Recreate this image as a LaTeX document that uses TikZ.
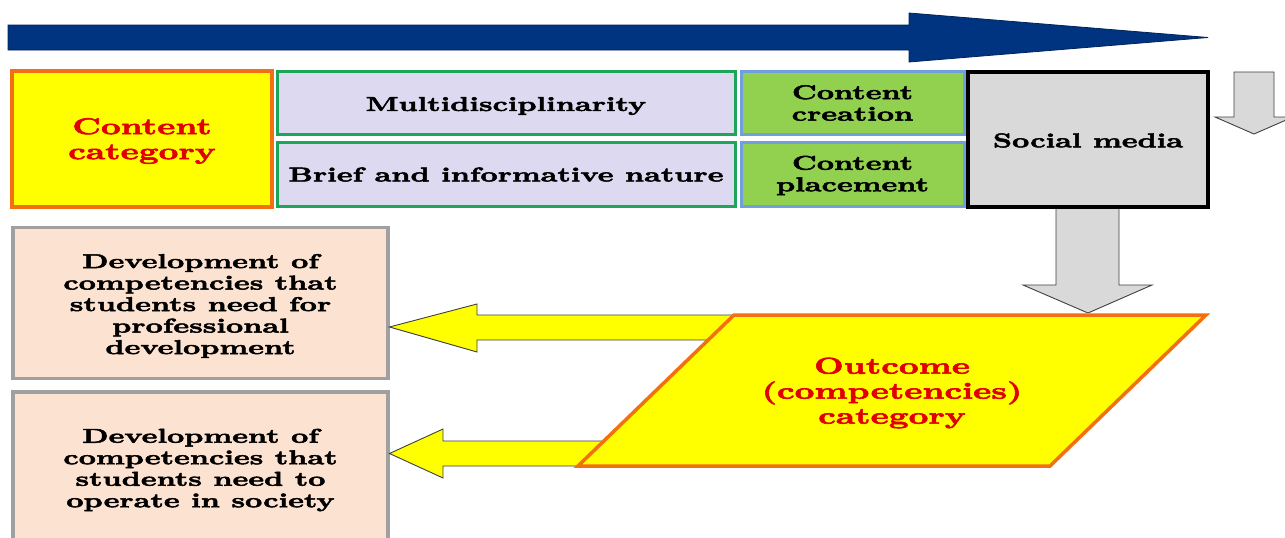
\documentclass[tikz,border=0pt]{standalone}
\usepackage{fontspec}
\setmainfont{lmroman10}[Extension=.otf, UprightFont=*-regular, BoldFont=*-bold,
  ItalicFont=*-italic, BoldItalicFont=*-bolditalic, FakeStretch=1.5,
  FakeBold=2.5]
\usetikzlibrary{calc}

\definecolor{navy}{HTML}{003380}
\definecolor{orng}{HTML}{F2700F}
\definecolor{lav}{HTML}{DDD9F1}
\definecolor{grn}{HTML}{1DA65A}
\definecolor{leaf}{HTML}{92D050}
\definecolor{skyb}{HTML}{6FA0DC}
\definecolor{lgray}{HTML}{D9D9D9}
\definecolor{peach}{HTML}{FCE2D0}
\definecolor{bgray}{HTML}{A0A0A0}
\definecolor{tred}{HTML}{E00000}
\definecolor{yel}{HTML}{FFFF00}
\definecolor{dline}{HTML}{404040}

\begin{document}
\begin{tikzpicture}[x=1pt, y=-1pt,
  every node/.style={inner sep=0pt, outer sep=0pt},
  txt/.style={font=\bfseries\fontsize{20}{21.5}\selectfont, align=center, text=black},
  ttl/.style={font=\bfseries\fontsize{23}{25}\selectfont, align=center, text=tred},
  % box text, lowered by the given amount from the box centre
  body/.style 2 args={label={[txt, yshift=-#1 pt]center:{#2}}},
  title/.style={label={[ttl, yshift=-2pt]center:{#1}}},
  catbox/.style={rectangle, draw=orng, line width=3.5pt, fill=yel},
  lavbox/.style={rectangle, draw=grn, line width=3pt, fill=lav},
  leafbox/.style={rectangle, draw=skyb, line width=3pt, fill=leaf},
  smbox/.style={rectangle, draw=black, line width=4pt, fill=lgray},
  devbox/.style={rectangle, draw=bgray, line width=3.5pt, fill=peach},
  timeline/.style={fill=navy, draw=navy!70!black, line width=0.8pt, line join=miter},
  garrow/.style={fill=lgray, draw=dline, line width=0.9pt, line join=miter},
  yarrow/.style={fill=yel, draw=dline, line width=0.9pt, line join=miter},
  outbox/.style={fill=yel, draw=orng, line width=3.5pt, line join=miter}]

\useasboundingbox (0,0) rectangle (1285,538);
\clip (0,0) rectangle (1285,538);
\fill[white] (0,0) rectangle (1285,538);

% timeline arrow along the top
\coordinate (tl0) at (8,37.5);
\coordinate (tl1) at (1208,37.5);
\draw[timeline] ($(tl0)+(0,-12.5)$) -- (909,25) -- (909,13) -- (tl1)
  -- (909,62) -- (909,50) -- ($(tl0)+(0,12.5)$) -- cycle;

% content row
\node[catbox, minimum width=260, minimum height=136,
  title={Content\\category}] (cat) at (142,139) {};
\node[lavbox, minimum width=458, minimum height=63,
  body={3}{Multidisciplinarity}] (multi) at (506,103) {};
\node[lavbox, minimum width=458, minimum height=64,
  body={0}{Brief and informative nature}] (brief) at (506,174.5) {};
\node[leafbox, minimum width=223, minimum height=63,
  body={0}{Content\\creation}] (create) at (852.5,103) {};
\node[leafbox, minimum width=223, minimum height=64,
  body={1}{Content\\placement}] (place) at (852.5,174.5) {};
\node[smbox, minimum width=240, minimum height=135,
  body={1}{Social media}] (social) at (1088,139.5) {};

% small arrow at the right edge
\coordinate (sa) at (1254,72);
\draw[garrow] ($(sa)+(-20,0)$) -- ++(0,45) -- (1215,117) -- (1254,134)
  -- (1293,117) -- (1274,117) -- (1274,72) -- cycle;

% outcome boxes
\node[devbox, minimum width=375, minimum height=151,
  body={3}{Development of\\competencies that\\students need for\\professional\\development}]
  (dev1) at (200.5,303) {};
\node[devbox, minimum width=375, minimum height=156,
  body={0}{Development of\\competencies that\\students need to\\operate in society}]
  (dev2) at (200.5,470) {};

% arrow from social media down to the outcome category
\coordinate (gtip) at (1088,313);
\filldraw[garrow] ($(social.south)+(-32,2)$) -- ++(0,76) -- ++(-33,0) -- (gtip)
  -- ++(64,-28) -- ++(-33,0) -- ($(social.south)+(31,2)$);

% arrows from the outcome category to the two competency boxes
\coordinate (y1) at (dev1.east |- 0,327);
\draw[yarrow] ($(y1)+(1.5,0)$) -- (477,304) -- (477,315) -- (750,315)
  -- (750,340) -- (477,340) -- (477,352) -- cycle;
\coordinate (y2) at (dev2.east |- 0,453.5);
\draw[yarrow] ($(y2)+(1.5,0)$) -- (443,429) -- (443,441) -- (625,441)
  -- (625,466) -- (443,466) -- (443,478) -- cycle;

% outcome category parallelogram
\coordinate (pa) at (734,315);
\coordinate (pb) at (1206,315);
\coordinate (pc) at (1050,466);
\coordinate (pd) at (578,466);
\draw[outbox] (pa) -- (pb) -- (pc) -- (pd) -- cycle;
\node[ttl] (outcome) at (892,393) {Outcome\\(competencies)\\category};

\end{tikzpicture}
\end{document}
